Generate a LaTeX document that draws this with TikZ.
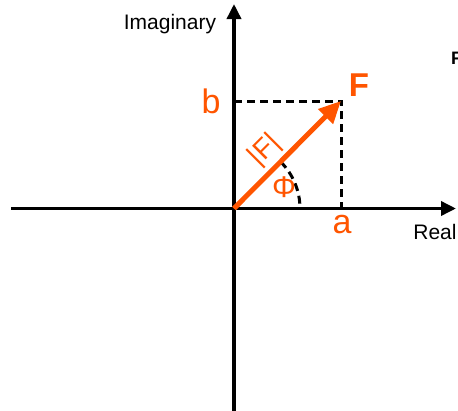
\documentclass[tikz,border=0pt]{standalone}
\usepackage{fontspec}
\setmainfont{Liberation Sans}
\usetikzlibrary{arrows.meta}
\definecolor{forange}{RGB}{255,85,0}
\tikzset{
  axis/.style={line width=3.5pt,-{Triangle[length=15pt,width=14pt]}},
  vec/.style={forange,line width=5pt,-{Triangle[length=22pt,width=20pt]}},
  guide/.style={line width=3pt,dash pattern=on 8pt off 5pt},
  olabel/.style={text=forange,inner sep=0pt},
  blabel/.style={inner sep=0pt}
}
\begin{document}
\begin{tikzpicture}[x=1pt,y=-1pt]
\useasboundingbox (0,0) rectangle (458,410);
\coordinate (O) at (234,208.5);
\coordinate (P) at (341,101);
\coordinate (B) at (234,101);
\coordinate (A) at (341,208.5);
\coordinate (xl) at (11,208.5);
\coordinate (xr) at (456,208.5);
\coordinate (yb) at (234,412);
\coordinate (yt) at (234,4);
\draw[axis] (xl) -- (xr);
\draw[axis] (yb) -- (yt);
\draw[guide] (B) -- (P) -- (A);
\draw[guide] (O) ++(-45:66) coordinate (arcS) arc[start angle=-45,end angle=0,radius=66];
\draw[vec] (O) -- (P);
\node[olabel,font=\fontsize{34}{34}\selectfont] (b) at (211,101) {b};
\node[olabel,font=\fontsize{34}{34}\selectfont] (a) at (342,225) {a};
\node[olabel,font=\fontsize{33}{33}\selectfont\bfseries] (F) at (359,85) {F};
\node[olabel,font=\fontsize{28}{28}\selectfont,rotate=45] (absF) at (265,150) {|F|};
\node[olabel,font=\fontsize{30}{30}\selectfont] (phi) at (284,187) {Φ};
\node[blabel,font=\fontsize{21}{21}\selectfont] (im) at (170,24) {Imaginary};
\node[blabel,font=\fontsize{21}{21}\selectfont] (re) at (435,232) {Real};
\node[blabel,font=\fontsize{18}{18}\selectfont\bfseries,anchor=west] (Fr) at (451,58) {F};
\end{tikzpicture}
\end{document}
